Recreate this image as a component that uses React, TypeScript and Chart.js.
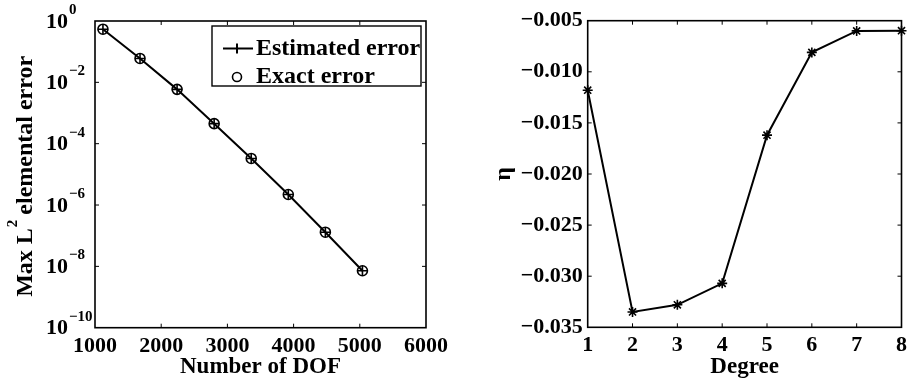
import React, { useEffect, useRef } from "react";
import { Chart, registerables } from "chart.js";

Chart.register(...registerables);

// ---------- data ----------
const dof = [1120, 1680, 2240, 2800, 3360, 3920, 4480, 5040];
const estimatedError = [0.54, 0.06, 5.9e-3, 4.5e-4, 3.3e-5, 2.2e-6, 1.3e-7, 7.2e-9];
const exactError = [0.54, 0.06, 5.9e-3, 4.5e-4, 3.3e-5, 2.2e-6, 1.3e-7, 7.2e-9];
const errorTickExponents = [0, -2, -4, -6, -8, -10];
const dofTicks = [1000, 2000, 3000, 4000, 5000, 6000];
const legendLabels = ["Estimated error", "Exact error"];

const degree = [1, 2, 3, 4, 5, 6, 7, 8];
const eta = [-0.0118, -0.0335, -0.0328, -0.0307, -0.0162, -0.0081, -0.006, -0.00598];
const etaTicks = [-0.035, -0.03, -0.025, -0.02, -0.015, -0.01, -0.005];

const FONT = "'Liberation Serif', 'Times New Roman', serif";
const W = 456;
const H = 387;

// frame with inward tick marks (MATLAB style box)
const framePlugin = {
  id: "frame",
  afterDraw(chart: any) {
    const { ctx, chartArea: a, scales } = chart;
    ctx.save();
    ctx.strokeStyle = "#000";
    ctx.lineWidth = 1.6;
    ctx.strokeRect(a.left, a.top, a.right - a.left, a.bottom - a.top);
    const len = 4;
    ctx.lineWidth = 1;
    const xs = scales.x;
    xs.ticks.forEach((t: any) => {
      const p = xs.getPixelForValue(t.value);
      if (p <= a.left + 1 || p >= a.right - 1) return;
      ctx.beginPath();
      ctx.moveTo(p, a.bottom);
      ctx.lineTo(p, a.bottom - len);
      ctx.moveTo(p, a.top);
      ctx.lineTo(p, a.top + len);
      ctx.stroke();
    });
    const ys = scales.y;
    ys.ticks.forEach((t: any) => {
      const p = ys.getPixelForValue(t.value);
      if (p <= a.top + 1 || p >= a.bottom - 1) return;
      ctx.beginPath();
      ctx.moveTo(a.left, p);
      ctx.lineTo(a.left + len, p);
      ctx.moveTo(a.right, p);
      ctx.lineTo(a.right - len, p);
      ctx.stroke();
    });
    ctx.restore();
  },
};

// left chart: power-of-ten tick labels, y title with superscript, legend box
const leftDecorPlugin = {
  id: "leftDecor",
  afterDraw(chart: any) {
    const { ctx, scales, chartArea: a } = chart;
    const ys = scales.y;
    ctx.save();
    ctx.fillStyle = "#000";
    errorTickExponents.forEach((e) => {
      const p = ys.getPixelForValue(Math.pow(10, e));
      ctx.font = `bold 22px ${FONT}`;
      ctx.textAlign = "right";
      ctx.textBaseline = "middle";
      ctx.fillText("10", 68, p + 1);
      ctx.font = `bold 15px ${FONT}`;
      ctx.textAlign = "left";
      ctx.textBaseline = "alphabetic";
      ctx.fillText(e === 0 ? "0" : "\u2212" + Math.abs(e), 69, p - 7);
    });

    // y-axis title
    const cy = (a.top + a.bottom) / 2 + 2;
    ctx.translate(32, cy);
    ctx.rotate(-Math.PI / 2);
    const big = `bold 24px ${FONT}`;
    const small = `bold 15px ${FONT}`;
    const p1 = "Max L";
    const sup = "2";
    const p2 = " elemental error";
    ctx.font = big;
    const w1 = ctx.measureText(p1).width;
    const w2 = ctx.measureText(p2).width;
    ctx.font = small;
    const ws = ctx.measureText(sup).width;
    let x = -(w1 + ws + w2) / 2;
    ctx.textAlign = "left";
    ctx.textBaseline = "alphabetic";
    ctx.font = big;
    ctx.fillText(p1, x, 0);
    x += w1;
    ctx.font = small;
    ctx.fillText(sup, x + 1, -15);
    x += ws;
    ctx.font = big;
    ctx.fillText(p2, x, 0);
    ctx.setTransform(1, 0, 0, 1, 0, 0);
    ctx.restore();

    // legend
    ctx.save();
    ctx.strokeStyle = "#000";
    ctx.fillStyle = "#fff";
    ctx.lineWidth = 1.4;
    ctx.fillRect(212, 26, 209, 60);
    ctx.strokeRect(212, 26, 209, 60);
    const y1 = 48.5;
    const y2 = 77;
    ctx.lineWidth = 2;
    ctx.beginPath();
    ctx.moveTo(223, y1);
    ctx.lineTo(253, y1);
    ctx.moveTo(237, y1 - 5);
    ctx.lineTo(237, y1 + 5);
    ctx.stroke();
    ctx.lineWidth = 1.6;
    ctx.beginPath();
    ctx.arc(237, y2, 4.5, 0, Math.PI * 2);
    ctx.stroke();
    ctx.fillStyle = "#000";
    ctx.font = `bold 24px ${FONT}`;
    ctx.textAlign = "left";
    ctx.textBaseline = "middle";
    ctx.fillText(legendLabels[0], 256, y1);
    ctx.fillText(legendLabels[1], 256, y2);
    ctx.restore();
  },
};

function useChart(ref: React.RefObject<HTMLCanvasElement>, make: (c: HTMLCanvasElement) => Chart) {
  useEffect(() => {
    if (!ref.current) return;
    const ch = make(ref.current);
    return () => ch.destroy();
  }, []);
}

export default function App() {
  const leftRef = useRef<HTMLCanvasElement>(null);
  const rightRef = useRef<HTMLCanvasElement>(null);

  useChart(leftRef, (c) =>
    new Chart(c, {
      type: "line",
      data: {
        datasets: [
          {
            label: legendLabels[0],
            data: dof.map((x, i) => ({ x, y: estimatedError[i] })),
            borderColor: "#000",
            backgroundColor: "#000",
            borderWidth: 2,
            pointStyle: "cross",
            pointRadius: 5,
            pointBorderWidth: 1.6,
            clip: false,
          },
          {
            label: legendLabels[1],
            data: dof.map((x, i) => ({ x, y: exactError[i] })),
            showLine: false,
            borderColor: "#000",
            backgroundColor: "rgba(0,0,0,0)",
            pointStyle: "circle",
            pointRadius: 5,
            pointBorderWidth: 1.6,
            clip: false,
          },
        ],
      },
      options: {
        responsive: false,
        animation: false,
        devicePixelRatio: 1,
        layout: { padding: { top: 21, right: 30, left: 0, bottom: 0 } },
        plugins: { legend: { display: false }, tooltip: { enabled: false } },
        scales: {
          x: {
            type: "linear",
            min: 1000,
            max: 6000,
            afterBuildTicks: (s: any) => {
              s.ticks = dofTicks.map((v) => ({ value: v }));
            },
            afterFit: (s: any) => {
              s.height = H - 327.7;
            },
            grid: { display: false, drawTicks: false },
            border: { display: false },
            ticks: {
              color: "#000",
              font: { family: FONT, size: 22, weight: "bold" },
              padding: 5,
              maxRotation: 0,
              autoSkip: false,
              callback: (v: any) => String(v),
            },
            title: {
              display: true,
              text: "Number of DOF",
              color: "#000",
              font: { family: FONT, size: 23, weight: "bold" },
              padding: { top: 0, bottom: 6 },
            },
          },
          y: {
            type: "logarithmic",
            min: 1e-10,
            max: 1,
            afterBuildTicks: (s: any) => {
              s.ticks = errorTickExponents.map((e) => ({ value: Math.pow(10, e) }));
            },
            afterFit: (s: any) => {
              s.width = 95;
            },
            grid: { display: false, drawTicks: false },
            border: { display: false },
            ticks: { display: false },
          },
        },
      },
      plugins: [framePlugin, leftDecorPlugin],
    } as any)
  );

  useChart(rightRef, (c) =>
    new Chart(c, {
      type: "line",
      data: {
        datasets: [
          {
            label: "eta",
            data: degree.map((x, i) => ({ x, y: eta[i] })),
            borderColor: "#000",
            backgroundColor: "#000",
            borderWidth: 2,
            pointStyle: "star",
            pointRadius: 5,
            pointBorderWidth: 1.6,
            clip: false,
          },
        ],
      },
      options: {
        responsive: false,
        animation: false,
        devicePixelRatio: 1,
        layout: { padding: { top: 20.7, right: 9.3, left: 0, bottom: 0 } },
        plugins: { legend: { display: false }, tooltip: { enabled: false } },
        scales: {
          x: {
            type: "linear",
            min: 1,
            max: 8,
            afterBuildTicks: (s: any) => {
              s.ticks = degree.map((v) => ({ value: v }));
            },
            afterFit: (s: any) => {
              s.height = H - 327.3;
            },
            grid: { display: false, drawTicks: false },
            border: { display: false },
            ticks: {
              color: "#000",
              font: { family: FONT, size: 22, weight: "bold" },
              padding: 5,
              maxRotation: 0,
              autoSkip: false,
              callback: (v: any) => String(v),
            },
            title: {
              display: true,
              text: "Degree",
              color: "#000",
              font: { family: FONT, size: 23, weight: "bold" },
              padding: { top: 0, bottom: 6 },
            },
          },
          y: {
            type: "linear",
            min: -0.035,
            max: -0.005,
            afterBuildTicks: (s: any) => {
              s.ticks = etaTicks.map((v) => ({ value: v }));
            },
            afterFit: (s: any) => {
              s.width = 131.7;
            },
            grid: { display: false, drawTicks: false },
            border: { display: false },
            ticks: {
              color: "#000",
              font: { family: FONT, size: 22, weight: "bold" },
              padding: 5,
              callback: (v: any) => "\u2212" + Math.abs(Number(v)).toFixed(3),
            },
            title: {
              display: true,
              text: "\u03b7",
              color: "#000",
              font: { family: FONT, size: 24, weight: "bold" },
              padding: { top: 33, bottom: 0 },
            },
          },
        },
      },
      plugins: [framePlugin],
    } as any)
  );

  return (
    <div style={{ position: "fixed", left: 0, top: 0, width: 912, height: 387, background: "#fff" }}>
      <canvas ref={leftRef} width={W} height={H} style={{ position: "absolute", left: 0, top: 0, width: W, height: H }} />
      <canvas ref={rightRef} width={W} height={H} style={{ position: "absolute", left: W, top: 0, width: W, height: H }} />
    </div>
  );
}
